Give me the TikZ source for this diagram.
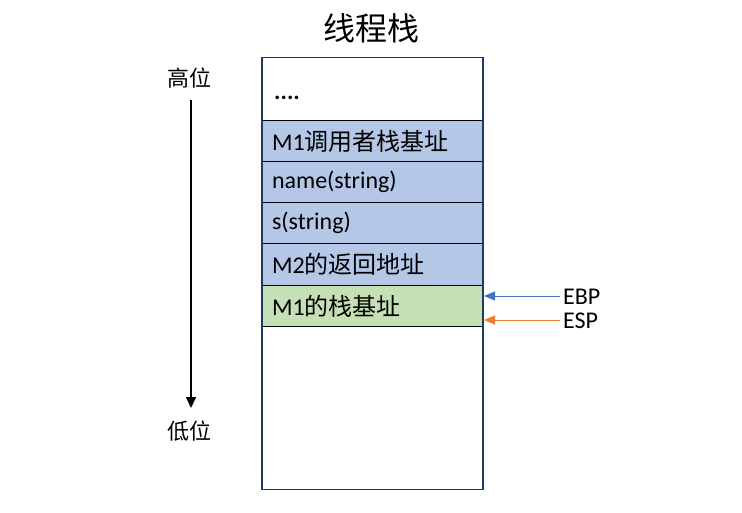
\documentclass[tikz,border=0pt]{standalone}
\usepackage{fontspec}
\setmainfont{Carlito}
\newfontfamily\cjk{Noto Sans CJK SC}
\usetikzlibrary{arrows.meta}
\definecolor{navy}{HTML}{1F3864}
\definecolor{rowblue}{HTML}{B4C7E7}
\definecolor{rowgreen}{HTML}{C5E0B4}
\definecolor{ebpblue}{HTML}{4472C4}
\definecolor{esporange}{HTML}{ED7D31}
\begin{document}
\begin{tikzpicture}[x=1pt,y=-1pt,
  rowbox/.style={draw=black, line width=1.1pt, minimum width=221pt, minimum height=41pt,
    text width=201pt, inner xsep=10pt, align=left, font=\fontsize{24}{26}\selectfont, anchor=north},
  sidelabel/.style={font=\cjk\fontsize{22}{26}\selectfont, inner sep=0pt},
  reglabel/.style={font=\fontsize{24}{26}\selectfont, anchor=west, inner sep=0pt}]
\useasboundingbox (0,0) rectangle (742,513);
\node[font=\cjk\fontsize{32}{36}\selectfont, inner sep=0pt] (title) at (371,28) {线程栈};
\node[rowbox, fill=white, minimum height=63pt] (r0) at (372.5,57) {};
\node[reglabel, anchor=west, font=\bfseries\fontsize{24}{26}\selectfont] (dots) at (274,98) {....};
\node[rowbox, fill=rowblue] (r1) at (372.5,120) {M1{\cjk 调用者栈基址}};
\node[rowbox, fill=rowblue] (r2) at (372.5,161) {name(string)};
\node[rowbox, fill=rowblue] (r3) at (372.5,202) {s(string)};
\node[rowbox, fill=rowblue, minimum height=42pt] (r4) at (372.5,243) {M2{\cjk 的返回地址}};
\node[rowbox, fill=rowgreen] (r5) at (372.5,285) {M1{\cjk 的栈基址}};
\node[draw=navy, line width=1.4pt, minimum width=221pt, minimum height=432pt, anchor=north, inner sep=0pt] (stack) at (372.5,57) {};
\node[sidelabel] (high) at (189,78) {高位};
\node[sidelabel] (low) at (189,431) {低位};
\coordinate (arrS) at (191,100);
\coordinate (arrT) at (191,408);
\draw[line width=1.6pt, -{Triangle[length=11pt,width=10pt]}] (arrS) -- (arrT);
\node[reglabel] (ebp) at (563,297) {EBP};
\node[reglabel] (esp) at (563,321) {ESP};
\coordinate (ebpS) at (560,296);
\coordinate (ebpT) at (484,296);
\coordinate (espS) at (560,320);
\coordinate (espT) at (484,320);
\draw[ebpblue, line width=0.8pt, -{Triangle[length=11pt,width=9pt]}] (ebpS) -- (ebpT);
\draw[esporange, line width=0.8pt, -{Triangle[length=11pt,width=9pt]}] (espS) -- (espT);
\end{tikzpicture}
\end{document}
